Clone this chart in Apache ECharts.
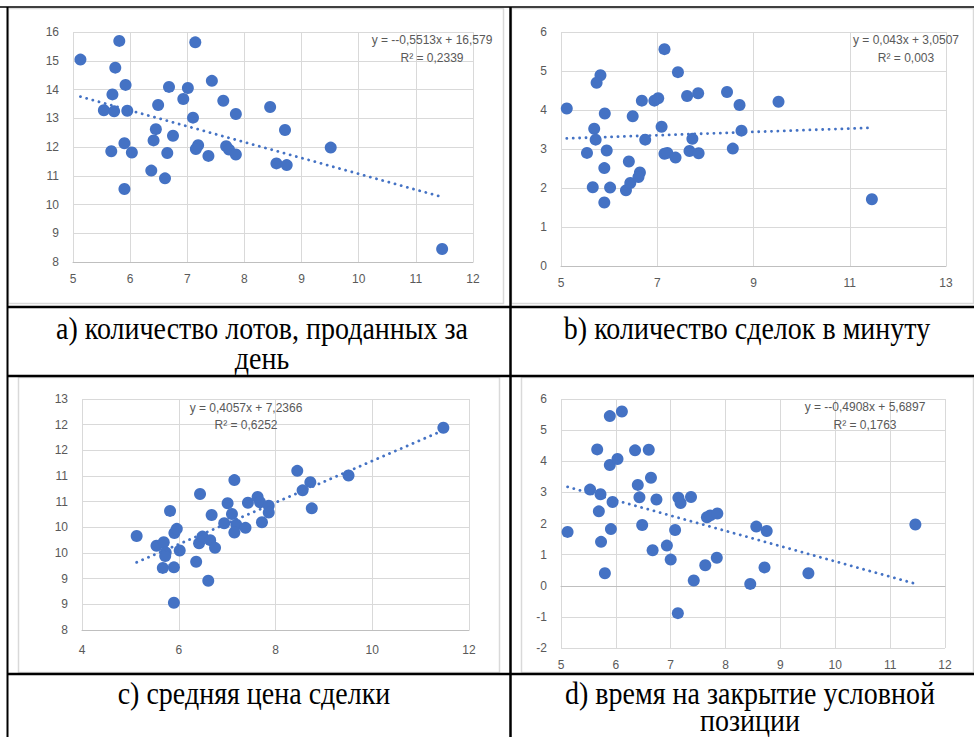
<!DOCTYPE html>
<html><head><meta charset="utf-8">
<script src="https://cdn.jsdelivr.net/npm/echarts@6/dist/echarts.min.js"></script>
<style>html,body{margin:0;padding:0;background:#fff}#c{width:974px;height:737px}</style>
</head><body><div id="c"></div>
<script>
// a) lots sold per day
const xA = [5.13,5.81,7.14,5.74,5.92,5.69,5.54,5.72,5.95,6.49,6.68,7.01,6.93,7.43,7.63,7.85,7.10,6.45,6.41,6.75,5.90,5.67,6.03,6.65,7.19,7.15,7.37,7.68,7.73,7.85,8.45,8.71,8.56,8.74,9.51,6.37,6.61,5.90,11.46];
const yA = [15.04,15.69,15.64,14.76,14.16,13.83,13.28,13.24,13.26,13.46,14.09,14.05,13.67,14.30,13.61,13.15,13.02,12.62,12.23,12.39,12.13,11.85,11.81,11.79,12.06,11.93,11.69,12.03,11.91,11.74,13.39,12.59,11.43,11.37,11.98,11.18,10.91,10.54,8.45];
// b) deals per minute
const xB = [5.12,5.82,5.74,5.91,5.69,5.72,5.54,5.95,5.90,5.66,6.02,5.90,6.35,6.44,6.41,6.64,6.61,6.49,6.68,6.75,6.94,7.02,7.15,7.09,7.15,7.21,7.38,7.43,7.62,7.85,7.73,7.67,7.86,8.45,8.71,8.75,8.57,9.52,11.46];
const yB = [4.04,4.89,4.70,3.91,3.52,3.24,2.90,2.96,2.51,2.02,2.01,1.63,1.94,2.13,2.68,2.40,2.28,3.84,4.24,3.24,4.24,4.30,5.56,3.57,2.88,2.90,2.78,4.97,4.36,4.43,3.26,2.95,2.89,4.46,4.13,3.47,3.01,4.21,1.71];
// c) average deal price
const xC = [5.13,5.54,5.69,5.73,5.72,5.67,5.82,5.91,5.96,5.90,5.90,6.02,6.36,6.42,6.49,6.44,6.65,6.75,6.61,6.68,6.94,7.01,7.10,7.15,7.19,7.15,7.38,7.43,7.63,7.68,7.72,7.86,7.86,8.45,8.56,8.72,8.75,9.51,11.47];
const yC = [9.83,9.64,9.71,9.51,9.44,9.21,10.32,9.89,9.97,9.22,8.53,9.55,9.33,9.69,9.82,10.65,9.75,9.60,8.96,10.24,10.08,10.47,10.26,10.92,10.05,9.90,9.99,10.48,10.59,10.49,10.10,10.42,10.29,11.10,10.72,10.88,10.37,11.01,11.94];
// d) time to close position
const xD = [5.12,5.53,5.66,5.72,5.69,5.73,5.80,5.89,6.11,5.89,6.03,5.94,5.91,6.35,6.60,6.40,6.43,6.64,6.48,6.74,6.67,6.93,7.00,7.08,7.14,7.18,7.13,7.37,7.42,7.66,7.72,7.85,7.63,7.84,8.45,8.56,8.75,8.71,9.51,11.46];
const yD = [1.73,3.09,4.38,2.94,2.39,1.41,0.40,5.45,5.60,3.88,4.07,2.69,1.82,4.35,4.37,3.24,2.84,3.47,1.95,2.77,1.14,1.29,0.84,1.79,2.83,2.66,-0.88,2.85,0.17,2.20,2.26,2.32,0.66,0.90,0.06,1.90,1.76,0.59,0.40,1.97];

const slopes = [-0.5513, 0.043, 0.4057, -0.4908];
const intercepts = [16.579, 3.0507, 7.2366, 5.6897];
const eqLines = ['y = --0,5513x + 16,579','y = 0,043x + 3,0507','y = 0,4057x + 7,2366','y = --0,4908x + 5,6897'];
const r2Lines = ['R² = 0,2339','R² = 0,003','R² = 0,6252','R² = 0,1763'];
const captions = [['a) количество лотов, проданных за','день'],['b) количество сделок в минуту'],['c) средняя цена сделки'],['d) время на закрытие условной','позиции']];

const xs=[xA,xB,xC,xD], ys=[yA,yB,yC,yD];
const BLUE='#4472C4', GRID='#d9d9d9', TXT='#595959';
const FONT='"Liberation Sans", Arial, sans-serif';

const grids=[
 {left:73,top:32,width:400,height:230},
 {left:561,top:32,width:385,height:234},
 {left:82,top:399,width:387,height:231},
 {left:561,top:399,width:384,height:249}
];
const xr=[[5,12,1],[5,13,2],[4,12,2],[5,12,1]];
const yr=[[8,16,1],[0,6,1],[8,12.5,0.5],[-2,6,1]];
const xAxis=xr.map((r,i)=>({type:'value',gridIndex:i,min:r[0],max:r[1],interval:r[2],
  axisTick:{show:false},axisLine:{show:true,onZero:i===3,lineStyle:{color:'#bfbfbf',width:1}},
  splitLine:{show:true,lineStyle:{color:GRID,width:1}},
  axisLabel:{color:TXT,fontSize:12,fontFamily:FONT,margin:i===2?14:11}}));
const yAxis=yr.map((r,i)=>({type:'value',gridIndex:i,min:r[0],max:r[1],interval:r[2],
  axisTick:{show:false},axisLine:{show:false},
  splitLine:{show:true,lineStyle:{color:GRID,width:1}},
  axisLabel:{color:TXT,fontSize:12,fontFamily:FONT,margin:14,
    formatter:i===2?(v=>String(Math.round(v))):(v=>String(v))}}));

const series=[];
for(let i=0;i<4;i++){
  const x=xs[i], y=ys[i];
  series.push({type:'scatter',xAxisIndex:i,yAxisIndex:i,symbolSize:12,
    itemStyle:{color:BLUE,opacity:1},data:x.map((v,k)=>[v,y[k]]),z:3});
  const x0=Math.min(...x), x1=Math.max(...x);
  series.push({type:'line',xAxisIndex:i,yAxisIndex:i,symbol:'none',silent:true,z:4,
    lineStyle:{color:BLUE,width:2.8,type:[0.1,6.3],cap:'round'},
    data:[[x0,slopes[i]*x0+intercepts[i]],[x1,slopes[i]*x1+intercepts[i]]]});
}

const eqPos=[[432,40,58],[906,40,58],[246,408,425],[865,407,425]];
const graphic=[];
// chart boxes
[[8,8,495,295],[511,8,462,295],[18,377,481,295],[521,377,452,295]].forEach(b=>{
  graphic.push({type:'rect',shape:{x:b[0]+0.5,y:b[1]+0.5,width:b[2],height:b[3]},style:{fill:null,stroke:'#d9d9d9',lineWidth:1.5},z:1});
});
// table lines
const L=(x1,y1,x2,y2,w)=>graphic.push({type:'line',shape:{x1,y1,x2,y2},style:{stroke:'#000',lineWidth:w},z:10});
L(0,7,974,7,1.5);
L(7.5,7,7.5,737,2);
L(510.5,7,510.5,737,2.5);
L(7,307,974,307,2.5);
L(7,376,974,376,2.5);
L(7,674,974,674,2.5);
// trend equations
eqPos.forEach((p,i)=>{
  graphic.push({type:'text',x:p[0],y:p[1],style:{text:eqLines[i],fill:TXT,font:'12px '+FONT,textAlign:'center',textVerticalAlign:'middle'},z:5});
  graphic.push({type:'text',x:p[0],y:p[2],style:{text:r2Lines[i],fill:TXT,font:'12px '+FONT,textAlign:'center',textVerticalAlign:'middle'},z:5});
});
// captions
const capPos=[[262,329,359],[747,329,359],[254,694,721],[750,694,721]];
captions.forEach((c,i)=>{
  c.forEach((t,k)=>{
    graphic.push({type:'text',x:capPos[i][0],y:capPos[i][1+k],scaleY:1.1,
      style:{text:t,fill:'#000',font:'28px "Liberation Serif", "Times New Roman", serif',textAlign:'center',textVerticalAlign:'middle'},z:6});
  });
});

const chart=echarts.init(document.getElementById('c'),null,{renderer:'svg'});
chart.setOption({animation:false,backgroundColor:'#fff',grid:grids,xAxis,yAxis,series,graphic});
</script></body></html>
